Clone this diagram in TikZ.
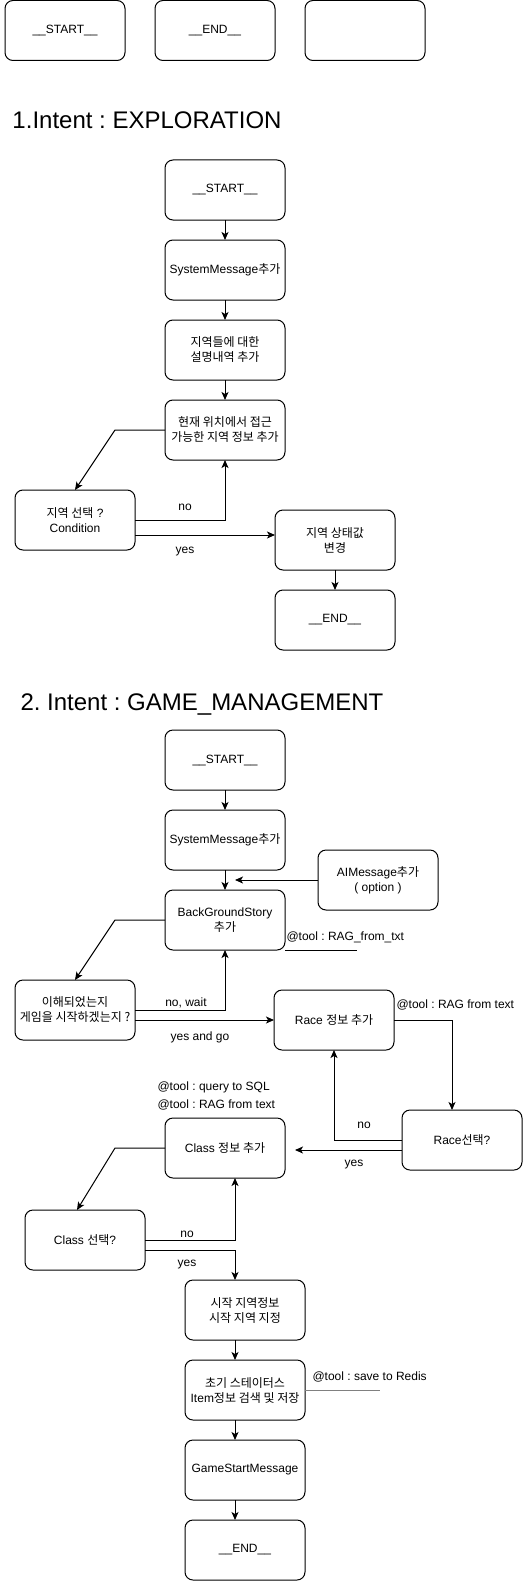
\documentclass[tikz,border=0pt]{standalone}
\usepackage{fontspec}
\setmainfont{Liberation Sans}
\newfontfamily\kr{Noto Sans CJK KR}
\usetikzlibrary{arrows.meta,positioning}
\newcommand{\boxfont}{\fontsize{12}{15}\selectfont}
\frenchspacing
\tikzset{%
    >={Stealth[length=8pt,width=7pt,inset=2pt]},
    box/.style={draw,rounded corners=8pt,minimum width=120pt,minimum height=60pt,inner sep=0pt,outer sep=0pt,align=center,font=\boxfont},
    krbox/.style={box,font=\kr\boxfont},
    lbl/.style={font=\boxfont,inner sep=0pt},
    ttl/.style={font=\fontsize{24}{28}\selectfont,anchor=base west,inner sep=0pt},
    ln/.style={line width=1pt}
}

\begin{document}
\begin{tikzpicture}[x=1pt,y=-1pt,ln,node distance=20pt]
\useasboundingbox (0,0) rectangle (526,1581);
\node[box] (lg-1) at (65,30.5) {\_\_START\_\_};
\node[box] (lg-2) at (215,30.5) {\_\_END\_\_};
\node[box] (lg-3) at (365,30.5) {};
%%%%% 1
\node[ttl] (t-1) at (12,129) {1.Intent : EXPLORATION};
\node[box] (s1-1) at (225,190) {\_\_START\_\_};
\node[box,below=of s1-1] (s1-2) {SystemMessage{\kr 추가}};
\node[krbox,below=of s1-2] (s1-3) {지역들에 대한\\설명내역 추가};
\node[krbox,below=of s1-3] (s1-4) {현재 위치에서 접근\\가능한 지역 정보 추가};
\node[box] (s1-5) at (75,520) {{\kr 지역 선택} ?\\Condition};
\node[krbox] (s1-6) at (335,540) {지역 상태값\\변경};
\node[box,below=of s1-6] (s1-7) {\_\_END\_\_};
\node[lbl] (s1-no) at (185,507) {no};
\node[lbl] (s1-yes) at (185,552) {yes};
\draw[->] (s1-1) -- (s1-2);
\draw[->] (s1-2) -- (s1-3);
\draw[->] (s1-3) -- (s1-4);
\draw[->] (s1-4.west) -- ++(-50,0) -- (s1-5.north);
\draw[->] (s1-5.east) -| (s1-4.south);
\coordinate (s1-y) at ([yshift=-15pt]s1-5.east);
\draw[->] (s1-y) -- (s1-y -| s1-6.west);
\draw[->] (s1-6) -- (s1-7);
%%%%% 2
\node[ttl] (t-2) at (20,710) {2. Intent : GAME\_MANAGEMENT};
\node[box] (s2-1) at (225,760) {\_\_START\_\_};
\node[box,below=of s2-1] (s2-2) {SystemMessage{\kr 추가}};
\node[box,below=of s2-2] (s2-3) {BackGroundStory\\{\kr 추가}};
\node[box] (s2-ai) at (378,880) {AIMessage{\kr 추가}\\( option )};
\node[krbox] (s2-4) at (75,1010) {이해되었는지\\게임을 시작하겠는지 ?};
\node[box] (s2-5) at (334,1020) {Race {\kr 정보 추가}};
\node[box] (s2-6) at (462,1140) {Race{\kr 선택}?};
\node[box] (s2-7) at (225,1148) {Class {\kr 정보 추가}};
\node[box] (s2-8) at (85,1240) {Class {\kr 선택}?};
\node[krbox] (s2-9) at (245,1310) {시작 지역정보\\시작 지역 지정};
\node[box,below=of s2-9] (s2-10) {{\kr 초기 스테이터스}\\Item{\kr 정보 검색 및 저장}};
\node[box,below=of s2-10] (s2-11) {GameStartMessage};
\node[box,below=of s2-11] (s2-12) {\_\_END\_\_};
% tool notes
\node[lbl,anchor=west] (tl-1) at (286,937) {@tool : RAG\_from\_txt};
\node[lbl,anchor=west] (tl-2) at (396,1005) {@tool : RAG from text};
\node[lbl,anchor=west] (tl-3) at (157,1087) {@tool : query to SQL};
\node[lbl,anchor=west] (tl-4) at (157,1105) {@tool : RAG from text};
\node[lbl,anchor=west] (tl-5) at (312,1377) {@tool : save to Redis};
% edge labels
\node[lbl] (s2-nw) at (186,1003) {no, wait};
\node[lbl] (s2-yg) at (200,1037) {yes and go};
\node[lbl] (s2-rn) at (364,1125) {no};
\node[lbl] (s2-ry) at (354,1165) {yes};
\node[lbl] (s2-cn) at (187,1234) {no};
\node[lbl] (s2-cyl) at (187,1265) {yes};
%%%%%
\draw[->] (s2-1) -- (s2-2);
\draw[->] (s2-2) -- (s2-3);
\coordinate (s2-aie) at (235,880);
\draw[->] (s2-ai) -- (s2-aie);
\coordinate (s2-rg) at (357,950);
\draw (s2-3.south east) -- (s2-rg);
\draw[->] (s2-3.west) -- ++(-50,0) -- (s2-4.north);
\draw[->] (s2-4.east) -| (s2-3.south);
\coordinate (s2-y) at ([yshift=-10pt]s2-4.east);
\draw[->] (s2-y) -- (s2-y -| s2-5.west);
\coordinate (s2-ri) at ([xshift=-10pt]s2-6.north);
\draw[->] (s2-5.east) -| (s2-ri);
\draw[->] (s2-6.west) -| (s2-5.south);
\coordinate (s2-rys) at ([yshift=-10pt]s2-6.west);
\coordinate (s2-ci) at ([xshift=10pt]s2-7.east);
\draw[->] (s2-rys) -- (s2-rys -| s2-ci);
\draw[->] (s2-7.west) -- ++(-50,0) -- ([xshift=-8pt]s2-8.north);
\draw[->] (s2-8.east) -| ([xshift=10pt]s2-7.south);
\coordinate (s2-cy) at ([yshift=-10pt]s2-8.east);
\draw[->] (s2-cy) -| ([xshift=-10pt]s2-9.north);
\draw[->] ([xshift=-10pt]s2-9.south) -- ([xshift=-10pt]s2-10.north);
\draw[->] ([xshift=-10pt]s2-10.south) -- ([xshift=-10pt]s2-11.north);
\draw[->] ([xshift=-10pt]s2-11.south) -- ([xshift=-10pt]s2-12.north);
\coordinate (s2-rd) at (380,1390);
\draw[gray] (s2-10.east) -- (s2-rd);
\end{tikzpicture}
\end{document}
